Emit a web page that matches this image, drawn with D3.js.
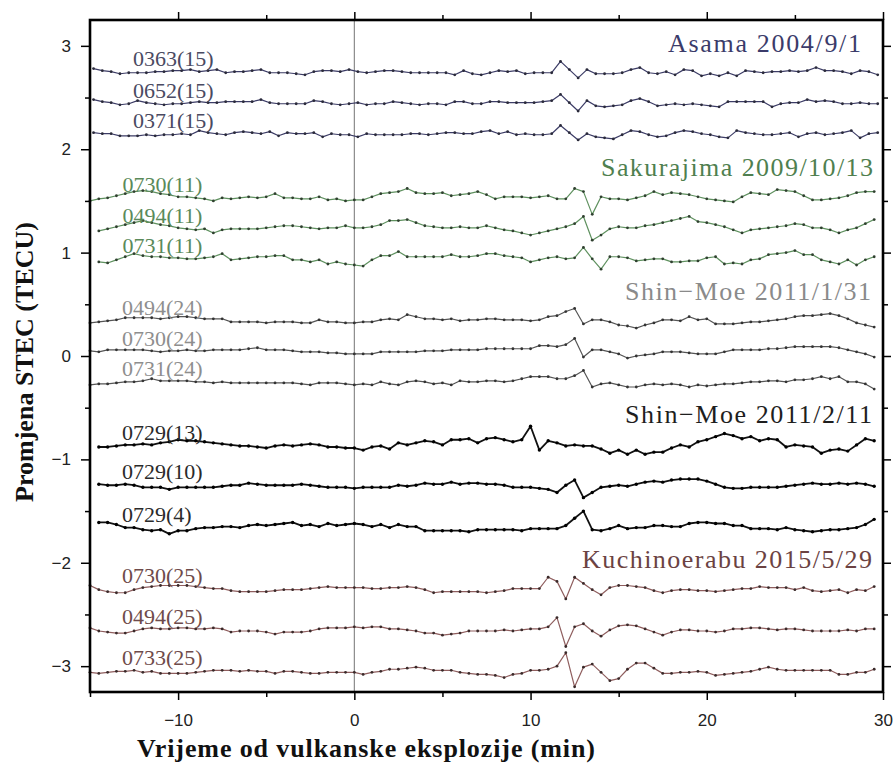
<!DOCTYPE html>
<html><head><meta charset="utf-8">
<script src="https://cdn.jsdelivr.net/npm/d3@7"></script>
<style>html,body{margin:0;padding:0;background:#fff;} svg{display:block;}</style>
</head><body><svg id="chart" width="896" height="764"></svg>
<script>
// ---------------- DATA ----------------
const xTicksMajor = [-10, 0, 10, 20, 30];
const xTicksMinor = [-15, -5, 5, 15, 25];
const yTicksMajor = [-3, -2, -1, 0, 1, 2, 3];
const yTicksMinor = [-2.5, -1.5, -0.5, 0.5, 1.5, 2.5];

const eventTitles = ["Asama 2004/9/1", "Sakurajima 2009/10/13", "Shin\u2212Moe 2011/1/31", "Shin\u2212Moe 2011/2/11", "Kuchinoerabu 2015/5/29"];
const stationLabels = ["0363(15)","0652(15)","0371(15)","0730(11)","0494(11)","0731(11)","0494(24)","0730(24)","0731(24)","0729(13)","0729(10)","0729(4)","0730(25)","0494(25)","0733(25)"];
const seriesEvent = [0,0,0,1,1,1,2,2,2,3,3,3,4,4,4];
const seriesStart = [-14.8,-14.8,-14.8,-15,-14.5,-14.5,-15,-15,-15,-14.5,-14.5,-14.5,-15,-15,-15];
const sampleStep = 0.5;

const asama0363 = [
2.78,2.76,2.75,2.73,2.74,2.74,2.74,2.75,2.75,2.76,
2.76,2.77,2.75,2.76,2.77,2.74,2.75,2.75,2.76,2.77,
2.74,2.74,2.74,2.73,2.72,2.75,2.76,2.76,2.75,2.77,
2.75,2.74,2.75,2.76,2.76,2.75,2.74,2.74,2.74,2.74,
2.74,2.72,2.76,2.73,2.72,2.74,2.76,2.75,2.76,2.73,
2.74,2.74,2.74,2.85,2.77,2.69,2.77,2.73,2.73,2.73,
2.74,2.77,2.79,2.74,2.73,2.75,2.72,2.77,2.76,2.71,
2.73,2.71,2.74,2.71,2.76,2.75,2.74,2.75,2.75,2.76,
2.75,2.76,2.79,2.76,2.76,2.75,2.73,2.76,2.75,2.72];
const asama0652 = [
2.48,2.46,2.45,2.43,2.44,2.47,2.45,2.44,2.43,2.44,
2.44,2.45,2.46,2.45,2.45,2.46,2.46,2.46,2.46,2.48,
2.45,2.44,2.44,2.44,2.44,2.47,2.46,2.44,2.43,2.44,
2.45,2.43,2.44,2.44,2.46,2.45,2.44,2.43,2.44,2.44,
2.43,2.46,2.46,2.44,2.44,2.46,2.46,2.45,2.45,2.45,
2.45,2.46,2.47,2.53,2.45,2.37,2.47,2.42,2.41,2.42,
2.43,2.47,2.49,2.46,2.42,2.43,2.44,2.43,2.44,2.43,
2.42,2.41,2.46,2.46,2.46,2.46,2.46,2.41,2.44,2.45,
2.45,2.48,2.46,2.47,2.46,2.44,2.44,2.45,2.44,2.44];
const asama0371 = [
2.16,2.15,2.15,2.13,2.13,2.13,2.14,2.13,2.14,2.14,
2.15,2.14,2.18,2.16,2.15,2.14,2.16,2.17,2.16,2.15,
2.17,2.13,2.16,2.15,2.15,2.16,2.12,2.15,2.14,2.14,
2.12,2.15,2.14,2.14,2.14,2.14,2.15,2.15,2.14,2.15,
2.16,2.16,2.15,2.15,2.17,2.18,2.15,2.17,2.14,2.15,
2.14,2.14,2.15,2.23,2.16,2.09,2.15,2.12,2.11,2.10,
2.14,2.18,2.17,2.14,2.12,2.13,2.16,2.18,2.17,2.15,
2.14,2.12,2.11,2.18,2.16,2.15,2.14,2.14,2.15,2.16,
2.12,2.15,2.16,2.14,2.15,2.16,2.18,2.11,2.15,2.16];
const sakura0730 = [
1.50,1.52,1.53,1.55,1.57,1.59,1.60,1.59,1.57,1.56,
1.54,1.54,1.53,1.52,1.50,1.53,1.52,1.53,1.54,1.53,
1.54,1.57,1.53,1.53,1.52,1.52,1.54,1.51,1.52,1.50,
1.51,1.51,1.54,1.57,1.58,1.59,1.62,1.58,1.57,1.57,
1.58,1.55,1.56,1.57,1.59,1.56,1.52,1.54,1.54,1.54,
1.53,1.54,1.55,1.52,1.52,1.62,1.59,1.37,1.54,1.52,
1.52,1.51,1.53,1.55,1.59,1.56,1.58,1.57,1.56,1.54,
1.52,1.51,1.50,1.49,1.54,1.58,1.57,1.56,1.61,1.60,
1.59,1.55,1.51,1.51,1.52,1.53,1.55,1.58,1.59,1.59];
const sakura0494 = [
1.21,1.23,1.25,1.27,1.29,1.31,1.29,1.27,1.26,1.24,
1.23,1.22,1.23,1.19,1.22,1.23,1.23,1.23,1.23,1.24,
1.25,1.26,1.26,1.25,1.24,1.23,1.24,1.24,1.26,1.24,
1.24,1.25,1.27,1.31,1.31,1.32,1.29,1.26,1.25,1.24,
1.24,1.25,1.24,1.24,1.26,1.24,1.22,1.21,1.19,1.17,
1.19,1.21,1.23,1.25,1.28,1.35,1.12,1.17,1.23,1.25,
1.24,1.24,1.26,1.27,1.29,1.31,1.33,1.35,1.30,1.29,
1.27,1.25,1.22,1.19,1.22,1.23,1.24,1.25,1.26,1.28,
1.27,1.24,1.24,1.22,1.19,1.22,1.24,1.28,1.32];
const sakura0731 = [
0.91,0.90,0.93,0.96,0.99,0.97,0.96,0.96,0.95,0.95,
0.94,0.94,0.95,0.96,0.99,0.93,0.94,0.95,0.96,0.96,
0.97,0.97,0.93,0.93,0.91,0.93,0.89,0.91,0.89,0.88,
0.87,0.93,0.97,0.97,1.01,0.96,0.96,0.96,0.96,0.96,
0.98,0.96,0.96,0.97,0.99,0.99,0.97,0.96,0.95,0.91,
0.93,0.95,0.96,0.94,0.95,1.05,0.94,0.84,0.96,0.96,
0.95,0.92,0.93,0.94,0.94,0.91,0.91,0.92,0.92,0.95,
0.96,0.89,0.90,0.89,0.93,0.94,0.98,0.99,1.00,1.02,
0.98,0.98,0.93,0.91,0.89,0.93,0.88,0.93,0.96];
const shinA0494 = [
0.32,0.33,0.34,0.35,0.37,0.37,0.37,0.37,0.36,0.37,
0.38,0.38,0.37,0.36,0.36,0.36,0.33,0.33,0.33,0.33,
0.32,0.33,0.33,0.33,0.32,0.32,0.35,0.33,0.33,0.32,
0.32,0.33,0.33,0.35,0.36,0.35,0.40,0.38,0.36,0.36,
0.35,0.36,0.34,0.35,0.35,0.36,0.36,0.35,0.35,0.35,
0.34,0.35,0.38,0.39,0.43,0.46,0.31,0.35,0.35,0.33,
0.30,0.29,0.27,0.30,0.32,0.35,0.35,0.34,0.38,0.35,
0.36,0.31,0.31,0.31,0.32,0.33,0.33,0.34,0.35,0.36,
0.38,0.39,0.39,0.40,0.41,0.39,0.36,0.32,0.30,0.28];
const shinA0730 = [
0.05,0.04,0.06,0.06,0.06,0.06,0.06,0.05,0.04,0.05,
0.05,0.06,0.05,0.05,0.06,0.06,0.06,0.06,0.07,0.08,
0.06,0.06,0.06,0.05,0.04,0.04,0.04,0.03,0.03,0.02,
0.02,0.02,0.02,0.04,0.04,0.04,0.04,0.04,0.05,0.05,
0.05,0.06,0.06,0.06,0.06,0.07,0.07,0.07,0.07,0.07,
0.07,0.10,0.10,0.09,0.11,0.17,-0.01,0.06,0.06,0.04,
0.02,-0.02,0.00,0.01,0.02,0.04,0.04,0.04,0.03,0.02,
0.02,0.02,0.04,0.06,0.06,0.06,0.06,0.07,0.07,0.08,
0.09,0.09,0.09,0.09,0.09,0.08,0.06,0.04,0.02,-0.01];
const shinA0731 = [
-0.28,-0.27,-0.27,-0.26,-0.25,-0.25,-0.24,-0.22,-0.24,-0.24,
-0.24,-0.24,-0.25,-0.25,-0.26,-0.25,-0.26,-0.26,-0.26,-0.26,
-0.26,-0.26,-0.26,-0.26,-0.27,-0.28,-0.26,-0.26,-0.26,-0.27,
-0.28,-0.27,-0.28,-0.25,-0.27,-0.28,-0.25,-0.24,-0.25,-0.27,
-0.26,-0.28,-0.24,-0.25,-0.25,-0.24,-0.24,-0.25,-0.24,-0.22,
-0.20,-0.20,-0.20,-0.22,-0.22,-0.19,-0.14,-0.30,-0.27,-0.26,
-0.28,-0.30,-0.30,-0.28,-0.27,-0.28,-0.27,-0.28,-0.30,-0.28,
-0.29,-0.28,-0.27,-0.27,-0.26,-0.25,-0.25,-0.24,-0.24,-0.25,
-0.23,-0.23,-0.22,-0.20,-0.22,-0.20,-0.25,-0.25,-0.27,-0.32];
const shinB0729_13 = [
-0.88,-0.88,-0.87,-0.86,-0.86,-0.85,-0.86,-0.84,-0.83,-0.81,
-0.82,-0.82,-0.83,-0.84,-0.85,-0.86,-0.87,-0.87,-0.88,-0.89,
-0.87,-0.86,-0.87,-0.86,-0.85,-0.86,-0.88,-0.88,-0.89,-0.89,
-0.91,-0.88,-0.87,-0.90,-0.84,-0.86,-0.84,-0.82,-0.83,-0.86,
-0.81,-0.81,-0.80,-0.84,-0.80,-0.79,-0.81,-0.83,-0.81,-0.68,
-0.91,-0.82,-0.84,-0.87,-0.86,-0.87,-0.87,-0.90,-0.94,-0.91,
-0.95,-0.91,-0.95,-0.93,-0.93,-0.89,-0.86,-0.88,-0.83,-0.81,
-0.78,-0.75,-0.77,-0.80,-0.78,-0.82,-0.80,-0.81,-0.88,-0.86,
-0.87,-0.88,-0.94,-0.91,-0.90,-0.92,-0.86,-0.80,-0.82];
const shinB0729_10 = [
-1.24,-1.25,-1.25,-1.24,-1.25,-1.27,-1.27,-1.27,-1.29,-1.27,
-1.27,-1.27,-1.27,-1.27,-1.26,-1.25,-1.25,-1.23,-1.24,-1.25,
-1.25,-1.25,-1.25,-1.24,-1.25,-1.26,-1.27,-1.27,-1.27,-1.28,
-1.27,-1.27,-1.27,-1.27,-1.25,-1.26,-1.25,-1.23,-1.24,-1.24,
-1.22,-1.24,-1.23,-1.23,-1.24,-1.24,-1.25,-1.27,-1.27,-1.27,
-1.28,-1.29,-1.32,-1.25,-1.20,-1.37,-1.32,-1.27,-1.26,-1.25,
-1.26,-1.24,-1.22,-1.21,-1.22,-1.20,-1.19,-1.19,-1.19,-1.21,
-1.24,-1.27,-1.28,-1.28,-1.27,-1.27,-1.27,-1.27,-1.26,-1.25,
-1.24,-1.23,-1.24,-1.24,-1.23,-1.24,-1.23,-1.24,-1.26];
const shinB0729_4 = [
-1.61,-1.61,-1.63,-1.66,-1.66,-1.68,-1.69,-1.68,-1.72,-1.69,
-1.69,-1.67,-1.66,-1.66,-1.65,-1.65,-1.66,-1.64,-1.63,-1.64,
-1.63,-1.62,-1.61,-1.64,-1.63,-1.65,-1.62,-1.64,-1.63,-1.62,
-1.63,-1.65,-1.63,-1.66,-1.63,-1.65,-1.65,-1.69,-1.69,-1.69,
-1.69,-1.69,-1.70,-1.68,-1.68,-1.68,-1.68,-1.68,-1.69,-1.67,
-1.67,-1.67,-1.67,-1.64,-1.57,-1.50,-1.68,-1.69,-1.67,-1.64,
-1.67,-1.66,-1.66,-1.64,-1.64,-1.65,-1.65,-1.62,-1.61,-1.61,
-1.62,-1.62,-1.64,-1.64,-1.67,-1.67,-1.67,-1.68,-1.66,-1.68,
-1.69,-1.70,-1.69,-1.68,-1.68,-1.67,-1.66,-1.63,-1.58];
const kuchi0730 = [
-2.22,-2.26,-2.28,-2.29,-2.29,-2.26,-2.24,-2.23,-2.22,-2.22,
-2.22,-2.22,-2.23,-2.24,-2.25,-2.25,-2.27,-2.28,-2.28,-2.28,
-2.28,-2.27,-2.26,-2.26,-2.26,-2.25,-2.24,-2.23,-2.24,-2.24,
-2.24,-2.24,-2.25,-2.25,-2.24,-2.24,-2.23,-2.24,-2.26,-2.29,
-2.28,-2.28,-2.28,-2.28,-2.28,-2.29,-2.28,-2.27,-2.25,-2.25,
-2.25,-2.25,-2.14,-2.18,-2.35,-2.14,-2.20,-2.26,-2.31,-2.24,
-2.22,-2.22,-2.23,-2.24,-2.27,-2.29,-2.27,-2.26,-2.26,-2.27,
-2.27,-2.28,-2.27,-2.26,-2.25,-2.25,-2.23,-2.24,-2.24,-2.24,
-2.26,-2.24,-2.27,-2.28,-2.27,-2.26,-2.29,-2.26,-2.27,-2.23];
const kuchi0494 = [
-2.63,-2.66,-2.67,-2.68,-2.68,-2.66,-2.64,-2.63,-2.64,-2.64,
-2.63,-2.63,-2.64,-2.64,-2.63,-2.64,-2.67,-2.66,-2.66,-2.66,
-2.67,-2.69,-2.67,-2.67,-2.67,-2.66,-2.64,-2.63,-2.63,-2.63,
-2.62,-2.63,-2.62,-2.62,-2.64,-2.64,-2.65,-2.66,-2.68,-2.68,
-2.70,-2.69,-2.68,-2.66,-2.66,-2.66,-2.66,-2.65,-2.66,-2.65,
-2.64,-2.64,-2.62,-2.53,-2.81,-2.62,-2.59,-2.66,-2.71,-2.65,
-2.61,-2.60,-2.61,-2.64,-2.67,-2.70,-2.67,-2.65,-2.65,-2.66,
-2.66,-2.67,-2.66,-2.64,-2.64,-2.63,-2.63,-2.64,-2.65,-2.64,
-2.64,-2.65,-2.66,-2.66,-2.66,-2.66,-2.65,-2.66,-2.64,-2.64];
const kuchi0733 = [
-3.06,-3.07,-3.06,-3.05,-3.05,-3.04,-3.06,-3.05,-3.07,-3.07,
-3.07,-3.07,-3.06,-3.05,-3.04,-3.04,-3.04,-3.05,-3.04,-3.05,
-3.05,-3.07,-3.05,-3.05,-3.06,-3.07,-3.07,-3.06,-3.06,-3.06,
-3.06,-3.08,-3.06,-3.05,-3.03,-3.03,-3.02,-3.01,-3.02,-3.04,
-3.04,-3.04,-3.06,-3.07,-3.08,-3.08,-3.09,-3.11,-3.08,-3.07,
-3.04,-3.04,-3.03,-3.00,-2.87,-3.20,-3.01,-2.98,-3.06,-3.14,
-3.12,-3.03,-2.97,-2.97,-3.02,-3.07,-3.07,-3.06,-3.06,-3.05,
-3.06,-3.09,-3.08,-3.07,-3.06,-3.05,-3.03,-3.01,-3.03,-3.04,
-3.04,-3.04,-3.04,-3.04,-3.04,-3.08,-3.08,-3.06,-3.06,-3.03];

const seriesValues = [asama0363, asama0652, asama0371, sakura0730, sakura0494, sakura0731,
  shinA0494, shinA0730, shinA0731, shinB0729_13, shinB0729_10, shinB0729_4,
  kuchi0730, kuchi0494, kuchi0733];

// ---------------- STYLE / LAYOUT ----------------
const SERIF = "'Liberation Serif', 'Times New Roman', Times, serif";
const SANS = "'Liberation Sans', Arial, Helvetica, sans-serif";
const eventStyle = [
  {title:"#3b3b6a", label:"#4a4a62", line:"#3c3c66", dot:"#2a2a3a", lw:1.2},
  {title:"#4f7f4f", label:"#5a8a5a", line:"#5f915f", dot:"#2f3f2f", lw:1.2},
  {title:"#8a8a8a", label:"#8e8e8e", line:"#555555", dot:"#333333", lw:1.2},
  {title:"#1e1e1e", label:"#2a2a2a", line:"#111111", dot:"#000000", lw:1.8},
  {title:"#6b4242", label:"#6e4a4a", line:"#8f5e5e", dot:"#3a2a2a", lw:1.2}
];
const titlePos = [
  {x:668, y:52, w:193}, {x:601, y:176, w:272}, {x:625, y:300, w:246},
  {x:625, y:423, w:247}, {x:582, y:568, w:290}
];
const labelPos = [[133,65.5],[133,97.5],[133,127.5],[122.5,191.5],[122.5,222.5],[122.5,253],
  [122,315],[122,345.5],[122,375.5],[122,439.5],[122,479],[122,521.5],[122,583],[122,624],[122,665]];

// fit a text element to a target length without letting the font overflow it
function fitText(sel, target) {
  const natural = sel.node().getComputedTextLength();
  sel.attr("textLength", target).attr("lengthAdjust", natural > target ? "spacingAndGlyphs" : "spacing");
  return sel;
}

// ---------------- DRAW ----------------
const svg = d3.select("#chart");
const x = d3.scaleLinear().domain([-15, 30]).range([90, 883]);
const y = d3.scaleLinear().domain([-3.25, 3.25]).range([692, 20]);

svg.append("line").attr("x1", x(0)).attr("x2", x(0)).attr("y1", y(3.25)).attr("y2", y(-3.25))
  .attr("stroke", "#808080").attr("stroke-width", 1.1);

const lineGen = d3.line().x(d => x(d.t)).y(d => y(d.v));
seriesValues.forEach((vals, k) => {
  const st = eventStyle[seriesEvent[k]];
  const pts = vals.map((v, i) => ({t: seriesStart[k] + i * sampleStep, v}));
  svg.append("path").attr("d", lineGen(pts)).attr("fill", "none")
    .attr("stroke", st.line).attr("stroke-width", st.lw).attr("stroke-linejoin", "round");
  svg.append("g").selectAll("circle").data(pts).join("circle")
    .attr("cx", d => x(d.t)).attr("cy", d => y(d.v)).attr("r", st.lw > 1.5 ? 1.7 : 1.4)
    .attr("fill", st.dot);
  svg.append("text").attr("x", labelPos[k][0]).attr("y", labelPos[k][1])
    .attr("font-family", SERIF).attr("font-size", 22)
    .attr("fill", st.label).text(stationLabels[k]);
});

eventTitles.forEach((t, k) => {
  const el = svg.append("text").attr("x", titlePos[k].x).attr("y", titlePos[k].y)
    .attr("font-family", SERIF).attr("font-size", 26)
    .attr("fill", eventStyle[k].title).text(t);
  fitText(el, titlePos[k].w);
});

function styleAxis(g) {
  g.select(".domain").remove();
  g.selectAll(".tick line").attr("stroke", "#000").attr("stroke-width", 1.5);
  g.selectAll(".tick text").attr("font-family", SANS).attr("font-size", 17).attr("fill", "#222");
}
const intFmt = d3.format("d");
svg.append("g").attr("transform", "translate(0,692)")
  .call(d3.axisBottom(x).tickValues(xTicksMajor).tickSize(8).tickPadding(14).tickFormat(intFmt)).call(styleAxis);
svg.append("g").attr("transform", "translate(0,692)")
  .call(d3.axisBottom(x).tickValues(xTicksMinor).tickSize(5).tickFormat("")).call(styleAxis);
svg.append("g").attr("transform", "translate(0,20)")
  .call(d3.axisTop(x).tickValues(xTicksMajor).tickSize(8).tickFormat("")).call(styleAxis);
svg.append("g").attr("transform", "translate(0,20)")
  .call(d3.axisTop(x).tickValues(xTicksMinor.filter(v => v > -15)).tickSize(5).tickFormat("")).call(styleAxis);
svg.append("g").attr("transform", "translate(90,0)")
  .call(d3.axisLeft(y).tickValues(yTicksMajor).tickSize(9).tickPadding(10).tickFormat(intFmt)).call(styleAxis);
svg.append("g").attr("transform", "translate(90,0)")
  .call(d3.axisLeft(y).tickValues(yTicksMinor).tickSize(5).tickFormat("")).call(styleAxis);
svg.append("g").attr("transform", "translate(883,0)")
  .call(d3.axisRight(y).tickValues(yTicksMajor).tickSize(8).tickFormat("")).call(styleAxis);
svg.append("g").attr("transform", "translate(883,0)")
  .call(d3.axisRight(y).tickValues(yTicksMinor).tickSize(5).tickFormat("")).call(styleAxis);

svg.append("rect").attr("x", 90).attr("y", 20).attr("width", 793).attr("height", 672)
  .attr("fill", "none").attr("stroke", "#000").attr("stroke-width", 2.6);

const xTitle = svg.append("text").attr("x", 137).attr("y", 756.5)
  .attr("font-family", SERIF).attr("font-weight", "bold")
  .attr("font-size", 26).attr("fill", "#111").text("Vrijeme od vulkanske eksplozije (min)");
fitText(xTitle, 458);
const yTitle = svg.append("text").attr("transform", "translate(33,362) rotate(-90)").attr("text-anchor", "middle")
  .attr("font-family", SERIF).attr("font-weight", "bold")
  .attr("font-size", 26).attr("fill", "#111").text("Promjena STEC (TECU)");
fitText(yTitle, 280);
</script>
</body></html>
